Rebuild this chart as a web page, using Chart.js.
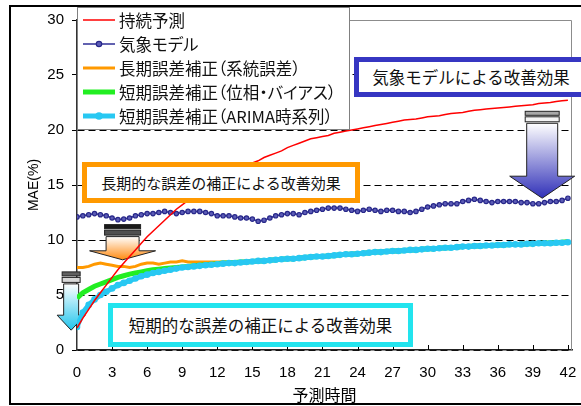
<!DOCTYPE html>
<html lang="ja">
<head>
<meta charset="utf-8">
<script src="https://cdn.jsdelivr.net/npm/chart.js@4.4.1/dist/chart.umd.min.js"></script>
<style>
  body { margin: 0; background: #fff; }
  #wrap { position: relative; width: 581px; height: 406px; overflow: hidden; }
  .frame { position: absolute; left: 9px; top: 5px; width: 640px; height: 400px; border: 2px solid #000; box-sizing: border-box; pointer-events: none; }
  .note { position: absolute; box-sizing: border-box; background: #fff; display: flex; align-items: center; justify-content: center;
          font-family: 'Noto Sans CJK JP', sans-serif; color: #111; white-space: nowrap; }
  .lg { position: absolute; left: 119px; font-family: 'Noto Sans CJK JP', sans-serif; font-size: 16.5px; line-height: 20px;
        color: #111; white-space: nowrap; font-feature-settings: "palt"; }
</style>
</head>
<body>
<div id="wrap">
  <canvas id="maeChart" width="581" height="406"></canvas>
  <div id="legendText"></div>
  <div class="frame"></div>
  <div class="note" style="left:354px;top:57px;width:234px;height:40px;border:5px solid #3636c2;font-size:16.5px;">気象モデルによる改善効果</div>
  <div class="note" style="left:82px;top:162px;width:278px;height:41px;border:5px solid #ff9900;font-size:15px;">長期的な誤差の補正による改善効果</div>
  <div class="note" style="left:108px;top:303px;width:305px;height:44px;border:5px solid #22e4ee;font-size:16.5px;">短期的な誤差の補正による改善効果</div>
</div>
<script>
// lead time (hours), every 30 minutes
var hours = [0,0.5,1,1.5,2,2.5,3,3.5,4,4.5,
  5,5.5,6,6.5,7,7.5,8,8.5,9,9.5,
  10,10.5,11,11.5,12,12.5,13,13.5,14,14.5,
  15,15.5,16,16.5,17,17.5,18,18.5,19,19.5,
  20,20.5,21,21.5,22,22.5,23,23.5,24,24.5,
  25,25.5,26,26.5,27,27.5,28,28.5,29,29.5,
  30,30.5,31,31.5,32,32.5,33,33.5,34,34.5,
  35,35.5,36,36.5,37,37.5,38,38.5,39,39.5,
  40,40.5,41,41.5,42];

var xTicks = [0,3,6,9,12,15,18,21,24,27,30,33,36,39,42];

// 持続予測
var persistence = [2.0,2.9,3.7,4.5,5.2,5.9,6.6,7.3,7.9,8.5,
  9.1,9.7,10.3,10.8,11.3,11.8,12.3,12.8,13.2,13.6,
  14.0,14.4,14.7,15.0,15.4,15.7,16.0,16.2,16.5,16.8,
  17.0,17.2,17.5,17.7,17.9,18.1,18.4,18.6,18.8,19.0,
  19.2,19.3,19.4,19.5,19.7,19.8,19.9,20.0,20.1,20.2,
  20.3,20.4,20.5,20.6,20.7,20.8,20.9,20.95,21.0,21.1,
  21.2,21.25,21.3,21.4,21.5,21.55,21.6,21.7,21.8,21.85,
  21.9,21.95,22.0,22.05,22.1,22.15,22.2,22.25,22.3,22.4,
  22.45,22.5,22.6,22.65,22.7];

// 気象モデル
var weatherModel = [12.1,12.2,12.3,12.4,12.3,12.2,12.0,11.85,11.9,12.0,
  12.2,12.3,12.4,12.4,12.5,12.6,12.5,12.4,12.5,12.6,
  12.6,12.6,12.5,12.4,12.2,12.2,12.2,12.1,12.0,12.0,
  11.9,11.7,11.8,12.0,12.2,12.3,12.4,12.4,12.3,12.5,
  12.6,12.7,12.8,12.9,12.9,12.9,12.8,12.7,12.6,12.7,
  12.8,12.7,12.6,12.7,12.7,12.6,12.6,12.5,12.6,12.8,
  13.0,13.1,13.2,13.3,13.3,13.3,13.5,13.6,13.7,13.6,
  13.5,13.4,13.5,13.5,13.5,13.5,13.4,13.4,13.3,13.3,
  13.4,13.5,13.5,13.6,13.8];

// 長期誤差補正（系統誤差）
var longTerm = [7.5,7.5,7.6,7.8,7.9,7.8,7.7,7.6,7.6,7.5,
  7.6,7.8,7.9,7.9,7.8,7.9,8.0,8.0,8.1,8.0,
  8.0,8.0,8.0,8.0,8.0,8.0,8.0,8.0,8.05,8.1,
  8.1,8.15,8.2,8.2,8.3,8.3,8.35,8.4,8.4,8.45,
  8.5,8.6,8.6,8.6,8.65,8.7,8.75,8.8,8.8,8.85,
  8.9,8.95,9.0,9.0,9.05,9.1,9.1,9.15,9.2,9.2,
  9.25,9.3,9.3,9.35,9.4,9.4,9.45,9.5,9.5,9.5,
  9.55,9.6,9.6,9.6,9.65,9.65,9.7,9.7,9.7,9.75,
  9.75,9.8,9.8,9.85,9.9];

// 短期誤差補正（位相・バイアス）
var shortPhase = [4.7,5.2,5.5,5.8,6.0,6.2,6.4,6.6,6.75,6.9,
  7.0,7.1,7.2,7.3,7.35,7.4,7.45,7.5,7.55,7.6,
  7.65,7.7,7.75,7.8,7.85,7.9,7.9,7.95,8.0,8.0,
  8.05,8.1,8.1,8.15,8.2,8.25,8.3,8.3,8.35,8.4,
  8.45,8.5,8.5,8.55,8.6,8.65,8.7,8.7,8.75,8.8,
  8.85,8.9,8.9,8.95,9.0,9.0,9.05,9.1,9.1,9.15,
  9.2,9.2,9.25,9.3,9.3,9.35,9.4,9.4,9.45,9.45,
  9.5,9.5,9.55,9.55,9.6,9.6,9.6,9.65,9.65,9.7,
  9.7,9.75,9.75,9.8,9.85];

// 短期誤差補正（ARIMA時系列）
var shortArima = [2.1,3.4,4.1,4.6,5.0,5.3,5.6,5.9,6.1,6.3,
  6.5,6.7,6.85,7.0,7.1,7.2,7.3,7.4,7.5,7.55,
  7.6,7.65,7.7,7.75,7.8,7.85,7.9,7.9,7.95,8.0,
  8.05,8.1,8.1,8.15,8.2,8.25,8.3,8.3,8.35,8.4,
  8.45,8.5,8.5,8.55,8.6,8.65,8.7,8.7,8.75,8.8,
  8.85,8.9,8.9,8.95,9.0,9.0,9.05,9.1,9.1,9.15,
  9.2,9.2,9.25,9.3,9.3,9.35,9.4,9.4,9.45,9.45,
  9.5,9.5,9.55,9.55,9.6,9.6,9.6,9.65,9.65,9.7,
  9.7,9.7,9.75,9.75,9.8];

var seriesNames = ['持続予測', '気象モデル', '長期誤差補正（系統誤差）', '短期誤差補正（位相・バイアス）', '短期誤差補正（ARIMA時系列）'];

// block arrows, anchored in data units (x = hours, top/tip = MAE)
var arrows = [
  { x: 39.8, top: 21.7, tip: 13.8, shaft: 15.5, head: 32.5, headLen: 22, color: '#3030b8', bars: ['#a8a8a8', '#f4f4f4'] },
  { x: 3.9, top: 11.4, tip: 8.2, shaft: 16.5, head: 33, headLen: 9, color: '#ff8a10', bars: ['#1a1a1a', '#505050'] },
  { x: -0.5, top: 7.1, tip: 1.8, shaft: 7.5, head: 14, headLen: 15, color: '#20c4ec', bars: ['#606060', '#d8d8d8'] }
];

Chart.defaults.font.family = "'Liberation Sans', Arial, sans-serif";
Chart.defaults.color = '#000';

var jpFont = "'Noto Sans CJK JP', sans-serif";
var legendRowY = function (i) { return 20 + i * 24; };

// legend labels as html text (proportional kana via palt)
seriesNames.forEach(function (name, i) {
  var d = document.createElement('div');
  d.className = 'lg';
  d.style.top = (legendRowY(i) - 10) + 'px';
  d.textContent = name;
  document.getElementById('legendText').appendChild(d);
});

var decorPlugin = {
  id: 'decor',
  beforeDatasetsDraw: function (chart) {
    var c = chart.ctx, a = chart.chartArea;
    var xs = chart.scales.x, ys = chart.scales.y;
    c.save();
    // gray plot frame (top/right)
    c.strokeStyle = '#8c8c8c';
    c.lineWidth = 1;
    c.beginPath();
    c.moveTo(a.left, a.top + 0.5);
    c.lineTo(a.right - 0.5, a.top + 0.5);
    c.lineTo(a.right - 0.5, a.bottom);
    c.stroke();
    // x tick marks pointing inward
    c.strokeStyle = '#000';
    xs.ticks.forEach(function (t) {
      if (t.value === 0) return;
      var px = Math.round(xs.getPixelForValue(t.value)) + 0.5;
      c.beginPath();
      c.moveTo(px, a.bottom);
      c.lineTo(px, a.bottom - 5);
      c.stroke();
    });
    // arrows
    arrows.forEach(function (ar) {
      var cx = xs.getPixelForValue(ar.x);
      var yTop = ys.getPixelForValue(ar.top);
      var yTip = ys.getPixelForValue(ar.tip);
      var b1 = 4, b2 = 5;
      c.lineWidth = 1;
      c.strokeStyle = '#222';
      c.fillStyle = ar.bars[0];
      c.fillRect(cx - ar.shaft - 1.5, yTop, ar.shaft * 2 + 3, b1);
      c.strokeRect(cx - ar.shaft - 1.5, yTop, ar.shaft * 2 + 3, b1);
      c.fillStyle = ar.bars[1];
      c.fillRect(cx - ar.shaft - 1.5, yTop + b1 + 1.5, ar.shaft * 2 + 3, b2);
      c.strokeRect(cx - ar.shaft - 1.5, yTop + b1 + 1.5, ar.shaft * 2 + 3, b2);
      var sTop = yTop + b1 + b2 + 3;
      var base = yTip - ar.headLen;
      var g = c.createLinearGradient(0, sTop, 0, yTip);
      g.addColorStop(0, '#ffffff');
      g.addColorStop(1, ar.color);
      c.fillStyle = g;
      c.beginPath();
      c.moveTo(cx - ar.shaft, sTop);
      c.lineTo(cx + ar.shaft, sTop);
      c.lineTo(cx + ar.shaft, base);
      c.lineTo(cx + ar.head, base);
      c.lineTo(cx, yTip);
      c.lineTo(cx - ar.head, base);
      c.lineTo(cx - ar.shaft, base);
      c.closePath();
      c.fill();
      c.stroke();
    });
    c.restore();
  },
  afterDraw: function (chart) {
    var c = chart.ctx;
    c.save();
    // legend box and line samples (labels are html on top)
    c.fillStyle = '#fff';
    c.fillRect(77.5, 7.5, 272, 122);
    c.strokeStyle = '#808080';
    c.lineWidth = 1;
    c.strokeRect(77.5, 7.5, 272, 122);
    chart.data.datasets.forEach(function (ds, i) {
      var y = legendRowY(i);
      c.strokeStyle = ds.borderColor;
      c.lineWidth = ds.borderWidth;
      c.beginPath();
      c.moveTo(83, y);
      c.lineTo(115, y);
      c.stroke();
      if (ds.pointRadius > 0) {
        c.beginPath();
        c.arc(99, y, ds.pointRadius + 0.5, 0, Math.PI * 2);
        c.fillStyle = ds.pointBackgroundColor;
        c.fill();
        if (ds.pointBorderWidth > 0) {
          c.lineWidth = ds.pointBorderWidth;
          c.strokeStyle = ds.pointBorderColor;
          c.stroke();
        }
      }
    });
    c.restore();
  }
};

var ctx = document.getElementById('maeChart').getContext('2d');
var maeChart = new Chart(ctx, {
  type: 'line',
  data: {
    labels: hours,
    datasets: [{
      label: seriesNames[0],
      data: persistence,
      borderColor: '#ff0000',
      borderWidth: 1.5,
      pointRadius: 0,
      order: 0
    }, {
      label: seriesNames[1],
      data: weatherModel,
      borderColor: '#2e2e96',
      borderWidth: 1.5,
      pointRadius: 2.2,
      pointBorderWidth: 1.2,
      pointBorderColor: '#28288a',
      pointBackgroundColor: '#5c5cb6',
      order: 1
    }, {
      label: seriesNames[2],
      data: longTerm,
      borderColor: '#ff9900',
      borderWidth: 3,
      pointRadius: 0,
      order: 4
    }, {
      label: seriesNames[3],
      data: shortPhase,
      borderColor: '#22ee22',
      borderWidth: 5,
      pointRadius: 0,
      order: 3
    }, {
      label: seriesNames[4],
      data: shortArima,
      borderColor: '#28c8f2',
      borderWidth: 5,
      pointRadius: 3.3,
      pointBorderWidth: 0,
      pointBorderColor: '#28c8f2',
      pointBackgroundColor: '#28c8f2',
      order: 2
    }]
  },
  options: {
    responsive: false,
    animation: false,
    layout: { padding: { left: 0, top: 20, right: 9, bottom: 0 } },
    plugins: { legend: { display: false }, tooltip: { enabled: false } },
    scales: {
      x: {
        type: 'linear',
        min: 0,
        max: 42.35,
        afterBuildTicks: function (s) { s.ticks = xTicks.map(function (v) { return { value: v }; }); },
        ticks: { padding: 14, font: { size: 15 }, maxRotation: 0, autoSkip: false },
        grid: { display: false, drawTicks: false },
        border: { color: '#222', width: 1.5 },
        title: { display: true, text: '予測時間', font: { size: 16, family: jpFont }, padding: { top: 0, bottom: 1 } },
        afterFit: function (s) { s.height = 56; s.paddingLeft = 0; s.paddingRight = 0; }
      },
      y: {
        min: 0,
        max: 30,
        ticks: { stepSize: 5, padding: 8, font: { size: 15 } },
        grid: { color: '#000', lineWidth: 1, tickLength: 5, tickColor: '#000', tickBorderDash: [] },
        border: { color: '#333', width: 1.5, dash: [7, 4] },
        title: { display: true, text: 'MAE(%)', font: { size: 14 }, padding: { top: 26, bottom: 0 } },
        afterFit: function (s) { s.width = 77; }
      }
    }
  },
  plugins: [decorPlugin]
});
</script>
</body>
</html>
